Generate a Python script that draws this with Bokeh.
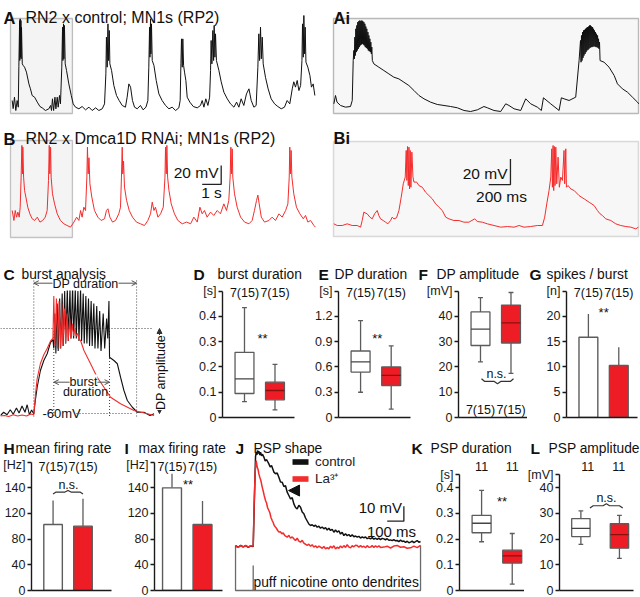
import math
from bokeh.plotting import figure
from bokeh.models import (Range1d, Label, FixedTicker, BoxAnnotation, Arrow, OpenHead,
                          NormalHead, Legend, LegendItem, LinearAxis)
from bokeh.layouts import row, column
from bokeh.embed import file_html
from bokeh.resources import INLINE

S = 1.0
FONT = "Liberation Sans"
RED = "#ee1d25"
TRED = "#f42c2c"
GREY = "#5c5c5c"

# ---------------------------------------------------------------- data
# A: RN2 x control, MN1s (RP2)  (time s, membrane potential mV)
a_trace = [
    (0.00, -49.5), (0.05, -58.0), (0.12, -46.0), (0.19, -60.0), (0.26, -49.5), (0.32, -56.5),
    (0.35, -14.0), (0.39, 34.7), (0.40, -7.4), (0.42, 36.5), (0.44, -3.9), (0.46, 34.7), (0.47, -5.6), (0.49, 27.7), (0.53, -10.9),
    (0.58, -12.6), (0.65, -14.4), (0.75, -19.6), (0.88, -32.0), (0.96, -37.2), (1.05, -44.2), (1.18, -46.0), (1.32, -51.2),
    (1.46, -55.8), (1.58, -57.2), (1.75, -60.0), (1.93, -58.2), (2.02, -54.7),
    (2.07, -60.0), (2.12, -47.7), (2.18, -60.0), (2.25, -46.0), (2.30, -58.2), (2.37, -46.0), (2.42, -56.5), (2.49, -44.2), (2.54, -53.0),
    (2.61, -14.4), (2.65, 27.7), (2.67, -7.4), (2.70, 31.2), (2.72, -5.6), (2.75, 29.5), (2.79, -10.9),
    (2.86, -17.9), (2.98, -32.0), (3.11, -44.2), (3.21, -53.0), (3.33, -56.5), (3.51, -58.2), (3.68, -55.8), (3.86, -59.3),
    (4.04, -56.5), (4.21, -60.0), (4.39, -57.2), (4.56, -60.0), (4.74, -58.2), (4.86, -53.0),
    (4.93, -21.4), (4.96, 17.2), (5.00, -14.4), (5.04, 31.2), (5.07, -7.4), (5.11, 24.2), (5.14, -10.9),
    (5.23, -17.9), (5.35, -33.7), (5.49, -44.2), (5.63, -49.5), (5.79, -54.7), (5.96, -56.5), (6.05, -46.0), (6.14, -32.0),
    (6.23, -35.4), (6.33, -49.5), (6.44, -56.5), (6.58, -58.2), (6.75, -54.7), (6.89, -59.3), (7.04, -56.5), (7.14, -49.5),
    (7.19, -14.4), (7.23, 27.7), (7.25, -3.9), (7.28, 36.5), (7.30, -0.4), (7.33, 31.2), (7.37, -7.4),
    (7.46, -12.6), (7.58, -28.4), (7.72, -42.5), (7.89, -49.5), (8.07, -54.7), (8.25, -58.2), (8.42, -56.5), (8.60, -60.0),
    (8.77, -57.2), (8.84, -49.5),
    (8.88, -10.9), (8.91, 15.4), (8.95, -14.4), (8.98, 15.4), (9.02, -12.6), (9.07, -19.6), (9.14, -28.4), (9.21, -46.0),
    (9.35, -51.2), (9.53, -55.8), (9.74, -57.2), (9.91, -54.7), (10.00, -49.5), (10.09, -56.5), (10.19, -47.7), (10.30, -54.7), (10.39, -46.0),
    (10.44, -17.9), (10.47, 13.7), (10.51, -10.9), (10.56, 24.2), (10.60, -7.4), (10.63, 29.5), (10.67, -3.9), (10.70, 20.7), (10.75, -7.4),
    (10.88, -17.9), (11.00, -29.8), (11.14, -40.7), (11.32, -47.7), (11.49, -53.0), (11.67, -56.5), (11.81, -51.2), (11.93, -56.5),
    (12.05, -47.7), (12.19, -54.7), (12.33, -42.5), (12.46, -37.2), (12.58, -49.5), (12.72, -56.5), (12.84, -54.7),
    (12.93, -14.4), (12.98, 20.7), (13.02, -7.4), (13.07, 27.7), (13.11, -5.6), (13.16, 17.2), (13.21, -10.9),
    (13.33, -25.0), (13.47, -37.2), (13.63, -47.7), (13.81, -53.0), (13.98, -55.8), (14.16, -58.2), (14.33, -56.5), (14.47, -49.5),
    (14.61, -53.0), (14.74, -37.2), (14.82, -29.8), (14.91, -35.4), (15.00, -28.4), (15.09, -39.0), (15.18, -33.7),
    (15.25, -7.4), (15.28, 31.2), (15.32, -3.9), (15.35, 40.0), (15.39, -0.4), (15.42, 27.7), (15.46, -9.1),
    (15.56, -14.4), (15.67, -23.2), (15.75, -35.4), (15.84, -32.0), (15.93, -44.2),
]
# B: RN2 x Dmca1D RNAi, MN1s (RP2)  (time s, mV)
b_trace = [
    (0.00, -46.0), (0.09, -56.5), (0.16, -46.0), (0.23, -53.0), (0.30, -47.7), (0.37, -53.0), (0.42, -42.5),
    (0.47, -10.9), (0.51, 22.5), (0.54, -7.4), (0.56, 20.7), (0.60, -10.9), (0.65, -24.9), (0.72, -31.9), (0.82, -42.5),
    (0.93, -49.5), (1.05, -54.7), (1.18, -56.5), (1.32, -53.0), (1.46, -58.2), (1.60, -56.5), (1.74, -53.0), (1.84, -46.0),
    (1.91, -14.4), (1.95, 22.5), (1.98, -7.4), (2.02, 20.7), (2.05, -10.9), (2.12, -28.4), (2.23, -39.0), (2.37, -49.5),
    (2.54, -56.5), (2.72, -60.0), (2.89, -61.8), (3.07, -63.5), (3.25, -58.2), (3.39, -53.0), (3.51, -56.5), (3.60, -46.0),
    (3.68, -53.0), (3.77, -42.5), (3.86, -46.0),
    (3.93, -10.9), (3.96, 20.7), (4.00, -7.4), (4.04, 9.5), (4.09, -17.9), (4.19, -31.9), (4.33, -46.0), (4.51, -53.0),
    (4.68, -56.5), (4.86, -54.7), (4.96, -46.0), (5.04, -44.2), (5.14, -53.0), (5.28, -58.2), (5.44, -56.5), (5.61, -49.5), (5.70, -42.5),
    (5.75, -10.9), (5.79, 20.7), (5.82, -7.4), (5.86, 6.0), (5.91, -21.4), (6.02, -35.4), (6.16, -46.0), (6.33, -53.0),
    (6.54, -58.2), (6.75, -60.0), (6.96, -61.8), (7.14, -56.5), (7.28, -49.5), (7.37, -37.2), (7.46, -46.0), (7.54, -42.5),
    (7.67, -53.0), (7.81, -49.5), (7.95, -42.5),
    (8.04, -10.9), (8.07, 20.7), (8.11, -7.4), (8.14, 22.5), (8.18, -10.9), (8.25, -24.9), (8.37, -39.0), (8.54, -49.5),
    (8.72, -56.5), (8.95, -60.0), (9.18, -58.2), (9.39, -60.0), (9.56, -53.0), (9.74, -58.2), (9.88, -42.5), (10.00, -49.5),
    (10.12, -46.0), (10.26, -53.0), (10.44, -47.7), (10.61, -51.2), (10.79, -46.0), (10.96, -49.5), (11.14, -39.0), (11.28, -46.0), (11.40, -35.4),
    (11.47, -10.9), (11.51, 20.7), (11.54, -7.4), (11.58, 18.9), (11.61, -10.9), (11.70, -28.4), (11.84, -42.5), (12.02, -53.0),
    (12.23, -58.2), (12.46, -60.0), (12.63, -56.5), (12.75, -46.0), (12.86, -35.4), (12.93, -29.8), (13.00, -39.0), (13.11, -53.0),
    (13.28, -58.2), (13.51, -56.5), (13.68, -53.0), (13.86, -56.5), (14.04, -49.5), (14.21, -53.0), (14.39, -46.0), (14.51, -39.0),
    (14.58, -10.9), (14.61, 20.7), (14.65, -7.4), (14.68, 17.2), (14.72, -10.9), (14.82, -28.4), (14.96, -42.5), (15.14, -49.5),
    (15.32, -54.7), (15.44, -51.2), (15.56, -58.2), (15.70, -56.5), (15.88, -61.8), (15.96, -63.5),
]
zoom_window_s = (-0.09, 3.17)          # part of A/B shown enlarged in Ai/Bi

# Ai / Bi: enlarged view (time ms, mV)
ai_trace = [
    (31, -54.0), (46, -47.5), (60, -52.7), (92, -55.3), (138, -56.6), (184, -56.1), (200, -51.4), (209, -20.2),
    (215, -12.3), (219, -18.9), (224, -1.9), (228, -16.3), (233, 4.6), (238, -13.6), (242, 7.2), (247, -12.3), (251, 9.8),
    (256, -11.0), (261, 10.6), (265, -9.7), (270, 11.1), (274, -8.4), (279, 10.6), (284, -7.7), (288, 11.1), (293, -7.1),
    (297, 10.6), (302, -7.7), (307, 9.8), (311, -8.4), (316, 8.5), (320, -9.7), (325, 6.4), (330, -10.3), (334, 4.6),
    (339, -11.0), (344, 2.0), (348, -12.3), (353, -0.6), (357, -12.9), (362, -3.2), (367, -13.6), (371, -5.8), (376, -15.0),
    (380, -9.7), (385, -20.2),
    (399, -22.8), (445, -25.4), (491, -28.0), (537, -30.6), (583, -33.2), (629, -34.5), (675, -37.1), (721, -39.7),
    (768, -43.6), (814, -47.5), (860, -50.1), (921, -52.7), (982, -54.5), (1044, -55.3), (1105, -56.1), (1167, -57.1),
    (1228, -59.2), (1289, -60.0), (1351, -58.7), (1412, -56.1), (1443, -57.1), (1504, -59.2), (1566, -60.0), (1612, -54.0),
    (1642, -55.3), (1689, -57.9), (1750, -59.2), (1796, -50.1), (1842, -54.0), (1903, -56.6), (1940, -59.2), (1959, -49.3),
    (2026, -54.0), (2103, -59.2), (2124, -49.3), (2149, -50.1), (2195, -51.4), (2256, -48.8), (2287, -20.2),
    (2300, -4.5), (2305, -21.5), (2309, -0.6), (2314, -20.2), (2319, 2.0), (2323, -18.1), (2328, 3.3), (2332, -16.3),
    (2337, 3.8), (2342, -15.0), (2346, 4.6), (2351, -13.6), (2355, 5.4), (2360, -12.3), (2365, 5.9), (2369, -11.8),
    (2374, 6.4), (2378, -11.0), (2383, 7.2), (2388, -10.3), (2392, 7.2), (2397, -9.7), (2401, 6.4), (2406, -9.7),
    (2411, 5.9), (2415, -9.2), (2420, 4.6), (2424, -9.2), (2429, 3.3), (2434, -9.2), (2438, 2.0), (2443, -9.7),
    (2447, 0.7), (2452, -9.7), (2457, -0.6), (2461, -10.3), (2466, -3.2), (2470, -11.0), (2475, -5.8), (2480, -20.2),
    (2517, -21.5), (2563, -25.4), (2610, -31.9), (2640, -38.4), (2686, -42.3), (2732, -44.9), (2778, -48.8),
    (2824, -52.7), (2836, -54.0),
]
bi_trace = [
    (3, -58.7), (34, -60.0), (80, -60.0), (126, -58.7), (172, -60.0), (218, -60.0), (249, -61.3), (264, -56.1), (279, -49.6),
    (310, -50.9), (335, -53.5), (356, -54.8), (378, -50.9), (402, -48.3), (417, -52.2), (433, -54.8), (457, -56.1),
    (479, -57.4), (500, -58.7), (525, -56.1), (540, -53.5), (556, -54.8), (580, -54.0), (602, -48.3), (623, -37.9),
    (642, -27.4), (660, -22.2),
    (669, -1.4), (675, -24.8), (681, 1.7), (688, -28.8), (694, 1.2), (700, -31.4), (706, -1.4), (712, -30.1), (721, -2.7), (731, -22.2),
    (740, -26.1), (765, -26.1), (786, -28.8), (817, -30.1), (847, -34.0), (878, -36.6), (909, -39.2), (940, -43.1),
    (970, -45.7), (1001, -48.3), (1032, -53.5), (1062, -54.8), (1108, -56.1), (1154, -56.1), (1200, -57.4), (1246, -57.4),
    (1299, -54.8), (1323, -56.9), (1369, -57.4), (1415, -58.7), (1477, -60.0), (1538, -61.3), (1600, -60.8), (1661, -61.3),
    (1707, -60.0), (1753, -61.3), (1814, -60.8), (1876, -60.0), (1922, -60.0), (1943, -53.5), (1962, -43.1), (1983, -32.7), (1999, -22.2),
    (2008, -0.1), (2014, -30.1), (2020, 2.5), (2026, -32.7), (2032, 1.7), (2038, -28.8), (2045, 1.2), (2054, -27.4),
    (2066, -6.6), (2078, -30.1), (2091, -22.2), (2106, -24.8), (2121, -1.4), (2127, -27.4), (2137, -0.1), (2143, -30.1),
    (2158, -28.8), (2183, -31.4), (2214, -32.7), (2259, -36.6), (2306, -39.2), (2352, -41.8), (2398, -44.4), (2428, -48.3),
    (2453, -50.9), (2474, -52.2), (2505, -54.8), (2551, -56.1), (2597, -58.7), (2643, -60.0), (2689, -60.8), (2735, -61.3),
    (2781, -62.6), (2805, -61.3),
]

# C: burst analysis (time ms, mV)
c_control = [
    (-227, -60.8), (-205, -59.5), (-182, -60.5), (-160, -58.5), (-140, -60.3), (-118, -57.8), (-100, -59.8), (-80, -57.0),
    (-60, -59.5), (-45, -56.5), (-30, -60.5), (-15, -58.6), (0, -60.2), (10, -55.0), (23, -49.5), (45, -42.8), (68, -38.8),
    (91, -36.1), (114, -31.5), (130, -30.5),
    (136, -34), (143, -20), (150, -36), (159, -16), (166, -35), (176, -14), (183, -34), (193, -12), (200, -33), (210, -11),
    (217, -32), (228, -10), (235, -31), (246, -10), (253, -30), (264, -9), (271, -30), (282, -10), (289, -30), (300, -11),
    (307, -31), (318, -10), (325, -31), (336, -12), (343, -32), (354, -13), (361, -32), (372, -14), (379, -33), (390, -15),
    (397, -33), (408, -16), (416, -34), (428, -17), (436, -34), (448, -19), (457, -35), (472, -20), (482, -34), (495, -22),
    (503, -30), (511, -15), (515, -37.5),
    (545, -38.8), (568, -40.1), (590, -45.5), (613, -50.8), (636, -54.8), (670, -57.5), (704, -59.5), (749, -59.5),
    (790, -60.8), (818, -60.1),
]
c_la = [
    (-227, -61.0), (-200, -60.8), (-170, -61.2), (-140, -60.5), (-110, -61.0), (-80, -60.6), (-50, -61.0), (-20, -60.2),
    (0, -60.5), (12, -52.0), (23, -46.0), (45, -40.0), (68, -36.5), (91, -34.0), (114, -31.0), (130, -30.0),
    (136, -13), (144, -33), (154, -14), (162, -34), (172, -15), (180, -34), (190, -16), (198, -33), (208, -18), (216, -32),
    (226, -20), (234, -31), (244, -22), (252, -30), (262, -24), (270, -29), (280, -26), (288, -29), (298, -28), (306, -30),
    (318, -30.8), (341, -34.8), (386, -40.1), (431, -45.5), (477, -49.5), (522, -53.5), (590, -56.1), (681, -58.8),
    (772, -60.1), (818, -60.8),
]
c_dp_start, c_dp_end = 0, 699          # ms
c_burst_start, c_burst_end = 136, 515  # ms
c_dp_top, c_rest = -26.0, -60.0        # mV

# J: PSP shape (time ms after puff, mV above baseline)
j_control = [
    (-106, 0.5), (-90, -0.5), (-75, 0.8), (-60, -0.3), (-45, 0.6), (-30, -0.5), (-15, 0.4), (0, 0.0), (8, 35.0), (14, 60.0),
    (18, 63.0), (22, 61.0), (26, 64.0), (30, 62.0), (34, 63.5), (40, 61.0), (44, 62.9), (50, 60.5), (56, 61.5), (64, 59.6),
    (72, 57.0), (80, 58.0), (94, 55.1), (102, 53.0), (110, 54.0), (124, 49.6), (134, 48.5), (144, 49.0), (154, 46.2),
    (164, 43.0), (174, 42.9), (184, 40.0), (194, 40.5), (204, 36.2), (214, 34.0), (224, 31.8), (234, 32.5), (244, 28.4),
    (254, 26.0), (264, 25.1), (274, 27.5), (284, 26.2), (294, 23.0), (304, 21.8), (314, 19.0), (324, 17.0), (334, 15.0),
    (344, 14.0), (354, 14.5), (364, 13.5), (374, 14.2), (384, 12.9), (394, 13.5), (404, 12.2), (414, 13.0), (424, 11.8),
    (434, 12.6), (444, 11.0), (454, 12.2), (464, 10.7), (474, 11.5), (484, 9.5), (494, 11.0), (504, 9.6), (514, 10.5),
    (524, 8.3), (534, 9.5), (544, 7.3), (554, 8.5), (564, 7.2), (574, 8.0), (584, 6.7), (594, 7.8), (604, 6.5), (614, 7.0),
    (624, 6.2), (634, 6.8), (644, 5.6), (654, 6.4), (664, 5.8), (674, 6.3), (684, 5.2), (694, 5.8), (704, 5.1), (714, 5.9),
    (724, 4.9), (734, 5.5), (744, 4.7), (754, 5.6), (764, 4.6), (774, 5.4), (784, 5.1), (794, 4.5), (804, 5.2), (814, 4.2),
    (824, 4.4), (834, 3.9), (844, 4.6), (854, 3.8), (864, 4.0), (874, 3.3), (884, 4.2), (894, 3.4), (904, 3.6), (914, 2.8),
    (924, 3.5), (934, 2.5), (944, 2.9), (954, 3.6), (964, 2.6), (974, 3.2), (984, 4.0), (994, 2.8), (1004, 3.3),
]
j_la = [
    (-106, 0.3), (-90, -0.6), (-75, 0.6), (-60, -0.4), (-45, 0.7), (-30, -0.4), (-15, 0.5), (0, 0.3), (6, 30.0), (12, 50.0),
    (18, 57.3), (24, 53.0), (30, 51.0), (34, 48.4), (40, 46.0), (46, 44.0), (54, 39.6), (60, 37.0), (66, 34.0), (74, 30.7),
    (80, 29.0), (86, 26.0), (94, 24.0), (100, 22.5), (106, 19.5), (114, 17.3), (120, 16.0), (126, 14.0), (134, 12.9),
    (140, 12.0), (148, 10.5), (156, 9.6), (164, 9.8), (172, 8.5), (180, 9.0), (190, 7.2), (204, 6.2), (214, 7.5), (224, 5.5),
    (234, 6.4), (244, 5.1), (254, 4.0), (264, 5.5), (274, 3.6), (284, 2.9), (294, 4.1), (304, 2.2), (314, 1.5), (324, 0.7),
    (334, 1.6), (344, 0.2), (354, 1.2), (364, -0.4), (374, 0.5), (384, -0.8), (394, 0.3), (404, -0.4), (414, -1.2),
    (424, 0.0), (434, -1.6), (444, -0.8), (454, -1.5), (464, 0.2), (474, -1.0), (484, 0.5), (494, -1.6), (504, -0.5),
    (514, -1.2), (524, 0.3), (534, -0.9), (544, 0.6), (554, -0.6), (564, 1.2), (574, -0.3), (584, -0.9), (594, 0.5),
    (604, -0.2), (614, 0.8), (624, 0.7), (634, -0.5), (644, 0.7), (654, -0.4), (664, 0.2), (674, -0.8), (684, 0.6),
    (694, -0.5), (704, -0.4), (714, 0.6), (724, -0.7), (734, 0.5), (744, -0.5), (754, 0.4), (764, -0.6), (784, -0.4),
    (804, 0.2), (824, -1.0), (844, 0.3), (864, 0.7), (884, -0.5), (904, -0.2), (924, -1.2), (944, -0.9), (964, 0.3),
    (984, -0.8), (1004, 0.7),
]
j_puff_t = 0
j_arrow_tip = (212, 37.3)

# statistics: [control, Dmca1D RNAi / La3+]
n_burst = ["7(15)", "7(15)"]
n_psp = ["11", "11"]
d_stats = dict(lo=[0.063, 0.03], q1=[0.095, 0.07], med=[0.153, 0.107], q3=[0.258, 0.14], hi=[0.435, 0.21])
e_stats = dict(lo=[0.30, 0.10], q1=[0.54, 0.38], med=[0.66, 0.50], q3=[0.79, 0.60], hi=[1.15, 0.85])
f_stats = dict(lo=[22.0, 17.5], q1=[28.5, 29.5], med=[35.0, 37.5], q3=[41.8, 44.5], hi=[47.5, 49.5])
k_stats = dict(lo=[0.19, 0.025], q1=[0.225, 0.107], med=[0.262, 0.135], q3=[0.293, 0.157], hi=[0.39, 0.222])
l_stats = dict(lo=[18.0, 12.5], q1=[21.0, 16.5], med=[24.2, 21.8], q3=[28.0, 26.0], hi=[31.0, 29.3])
g_mean, g_sd = [15.9, 10.3], [4.6, 3.6]
h_mean, h_sd = [102.9, 100.3], [37.4, 42.6]
i_mean, i_sd = [160.0, 102.9], [21.9, 36.4]

d_ticks, d_labels = [0, 0.1, 0.2, 0.3, 0.4, 0.5], ["0", "0.1", "0.2", "0.3", "0.4", "[s]"]
e_ticks, e_labels = [0, 0.3, 0.6, 0.9, 1.2, 1.5], ["0", "0.3", "0.6", "0.9", "1.2", "[s]"]
f_ticks, f_labels = [0, 10, 20, 30, 40, 50], ["0", "10", "20", "30", "40", "[mV]"]
g_ticks, g_labels = [0, 5, 10, 15, 20, 25], ["0", "5", "10", "15", "20", "[n]"]
hz_ticks, hz_labels = [0, 40, 80, 120, 160, 200], ["0", "40", "80", "120", "140", "[Hz]"]
k_ticks, k_labels = [0, 0.1, 0.2, 0.3, 0.4, 0.45], ["0", "0.1", "0.2", "0.3", "0.4", "[s]"]
l_ticks, l_labels = [0, 10, 20, 30, 40, 45], ["0", "10", "20", "30", "40", "[mV]"]
pos2 = [1, 2]
pos_l = [1, 2.3]


# ---------------------------------------------------------------- helpers
def px(v):
    return int(round(v * S))


def fs(v):
    return f"{v * S:.1f}px"


def cols(tr):
    return [t for t, _ in tr], [v for _, v in tr]


class Panel:
    def __init__(self, x0, x1, y0, y1, frame, xmap, ymap):
        fl, fr, ft, fb = frame
        self.xmap, self.ymap = xmap, ymap
        p = figure(width=px(x1) - px(x0), height=px(y1) - px(y0), title=None,
                   output_backend="svg", toolbar_location=None,
                   x_range=Range1d(xmap(fl), xmap(fr)), y_range=Range1d(ymap(fb), ymap(ft)),
                   x_axis_type=None, y_axis_type=None,
                   min_border_left=px(fl) - px(x0), min_border_right=px(x1) - px(fr),
                   min_border_top=px(ft) - px(y0), min_border_bottom=px(y1) - px(fb))
        p.outline_line_color = None
        p.background_fill_color = "white"
        p.border_fill_color = "white"
        self.p = p

    def text(self, x, y, s, size, bold=False, align="left", baseline="alphabetic",
             color="#111111", angle=0.0, bg=None):
        self.p.add_layout(Label(x=x, y=y, text=s, text_font=FONT, text_font_size=fs(size),
                                text_font_style="bold" if bold else "normal",
                                text_align=align, text_baseline=baseline, text_color=color,
                                angle=angle, background_fill_color=bg))

    def rtext(self, rx, ry, s, size, **kw):
        self.text(self.xmap(rx), self.ymap(ry), s, size, **kw)


def header(x0, x1, y0, y1):
    return Panel(x0, x1, y0, y1, (x0, x1, y0, y1), lambda r: r, lambda r: -r)


def stat_panel(x0, x1, y0, y1, axis_x, zero_y, ppu, ticks, labels, axis_end, xstart=0.279):
    def xmap(r):
        return xstart + (r - axis_x) / 30.5

    def ymap(r):
        return (zero_y - r) / ppu

    pan = Panel(x0, x1, y0, y1, (axis_x, x1, y0, zero_y), xmap, ymap)
    ya = LinearAxis(ticker=FixedTicker(ticks=ticks),
                    major_label_overrides=dict(zip(ticks, labels)),
                    bounds=(ticks[0], ticks[-1]))
    xa = LinearAxis(ticker=FixedTicker(ticks=[]), bounds=(xstart, xmap(axis_end)))
    for ax in (ya, xa):
        ax.axis_line_color = "#1a1a1a"
        ax.axis_line_width = 1.4
        ax.major_tick_line_color = "#1a1a1a"
        ax.major_tick_line_width = 1.4
        ax.major_tick_in = 0
        ax.major_tick_out = 4
        ax.minor_tick_line_color = None
        ax.major_label_text_font = FONT
        ax.major_label_text_font_size = fs(12.5)
        ax.major_label_text_color = "#1a1a1a"
        ax.major_label_standoff = 2
    xa.major_tick_out = 0
    xa.major_label_standoff = 0
    pan.p.add_layout(ya, "left")
    pan.p.add_layout(xa, "below")
    return pan


def boxes(pan, pos, st, w=0.62, cap=0.16):
    p = pan.p
    lefts = [x - w / 2 for x in pos]
    rights = [x + w / 2 for x in pos]
    p.segment(pos, st["q3"], pos, st["hi"], line_color=GREY, line_width=1.3)
    p.segment(pos, st["q1"], pos, st["lo"], line_color=GREY, line_width=1.3)
    p.segment([x - cap / 2 for x in pos], st["hi"], [x + cap / 2 for x in pos], st["hi"], line_color=GREY, line_width=1.3)
    p.segment([x - cap / 2 for x in pos], st["lo"], [x + cap / 2 for x in pos], st["lo"], line_color=GREY, line_width=1.3)
    p.quad(left=lefts, right=rights, bottom=st["q1"], top=st["q3"], fill_color=["white", RED],
           line_color=GREY, line_width=1.3)
    p.segment(lefts, st["med"], rights, st["med"], line_color=["#444444", "#8a1010"], line_width=1.3)


def bars(pan, pos, mean, sd, w=0.62):
    p = pan.p
    tops = [m + s for m, s in zip(mean, sd)]
    p.segment(pos, mean, pos, tops, line_color=GREY, line_width=1.3)
    p.vbar(x=pos, top=mean, bottom=0, width=w, fill_color=["white", RED], line_color=GREY, line_width=1.4)


def brace(pan, x1, x2, y, h):
    xm = (x1 + x2) / 2
    d = (x2 - x1) * 0.1
    pan.p.line([x1, x1 + d, xm - d, xm, xm + d, x2 - d, x2],
               [y, y + 0.55 * h, y + 0.55 * h, y + h, y + 0.55 * h, y + 0.55 * h, y],
               line_color="#333333", line_width=1.2)


def scalebar(pan, t, v, dt, dv, color="#222222"):
    pan.p.line([t - dt, t, t], [v, v, v + dv], line_color=color, line_width=1.3)


# ---------------------------------------------------------------- row 1 / 2
A = Panel(0, 325, 0, 118, (0, 325, 0, 118), lambda r: (r - 11.7) / 19.0, lambda r: -60 + (110 - r) / 0.95)
A.p.add_layout(BoxAnnotation(left=zoom_window_s[0], right=zoom_window_s[1], bottom=A.ymap(113), top=A.ymap(18),
                             fill_color="#f4f4f4", fill_alpha=1, line_color="#333333", line_width=1.3, level="underlay"))
A.p.line(*cols(a_trace), line_color="#111111", line_width=1)
A.rtext(3, 17, "A", 16.5, bold=True)
A.rtext(25, 17, "RN2 x control; MN1s (RP2)", 16)

B = Panel(0, 325, 118, 243, (0, 325, 118, 243), lambda r: (r - 11.7) / 19.0, lambda r: -60 + (223.3 - r) / 0.95)
B.p.add_layout(BoxAnnotation(left=zoom_window_s[0], right=zoom_window_s[1], bottom=B.ymap(237), top=B.ymap(140),
                             fill_color="#f4f4f4", fill_alpha=1, line_color="#444444", line_width=1.3, level="underlay"))
B.p.line(*cols(b_trace), line_color=TRED, line_width=1)
B.rtext(3, 138, "B", 16.5, bold=True)
B.rtext(25, 138, "RN2 x Dmca1D RNAi; MN1s (RP2)", 16)
scalebar(B, 11.0, -18.6, 1.0, 20.0)
B.rtext(218, 172, "20 mV", 15.5, align="right", baseline="middle")
B.rtext(211, 192, "1 s", 15.5, align="center", baseline="middle")

Ai = Panel(325, 640, 0, 118, (325, 640, 0, 118), lambda r: (r - 330) * 9.2, lambda r: -60 + (111 - r) / 1.28)
Ai.p.add_layout(BoxAnnotation(left=Ai.xmap(333), right=Ai.xmap(638), bottom=Ai.ymap(113), top=Ai.ymap(18),
                              fill_color="#f7f7f7", fill_alpha=1, line_color="#222222", line_width=1.4, level="underlay"))
Ai.p.line(*cols(ai_trace), line_color="#111111", line_width=1)
Ai.rtext(333, 17, "Ai", 16.5, bold=True)

Bi = Panel(325, 640, 118, 243, (325, 640, 118, 243), lambda r: (r - 333) * 9.2, lambda r: -60 + (225 - r) / 1.28)
Bi.p.add_layout(BoxAnnotation(left=Bi.xmap(333), right=Bi.xmap(638), bottom=Bi.ymap(236), top=Bi.ymap(141),
                              fill_color="#f7f7f7", fill_alpha=1, line_color="#8a8a8a", line_width=1.5, level="underlay"))
Bi.p.line(*cols(bi_trace), line_color=TRED, line_width=1)
Bi.rtext(333, 137, "Bi", 16.5, bold=True)
scalebar(Bi, 1628, -28.0, 200, 20.0)
Bi.rtext(507, 172.5, "20 mV", 15.5, align="right", baseline="middle")
Bi.rtext(501, 196, "200 ms", 15.5, align="center", baseline="middle")

# ---------------------------------------------------------------- row 3
C = Panel(0, 190, 243, 427, (0, 190, 243, 427), lambda r: (r - 33.3) * 6.8, lambda r: -60 + (413 - r) / 2.5)
cp = C.p
dot = dict(line_color="#444444", line_width=1, line_dash="1 2")
cp.segment([c_dp_start, c_dp_end], [C.ymap(280)] * 2, [c_dp_start, c_dp_end], [C.ymap(417)] * 2, **dot)
cp.segment([c_burst_start, c_burst_end], [-27.0] * 2, [c_burst_start, c_burst_end], [C.ymap(417)] * 2, **dot)
cp.segment([C.xmap(0)], [c_dp_top], [C.xmap(153)], [c_dp_top], **dot)
cp.segment([C.xmap(76)], [c_rest], [C.xmap(133)], [c_rest], **dot)
cp.line(*cols(c_control), line_color="#111111", line_width=1.1)
cp.line(*cols(c_la), line_color=TRED, line_width=1.1)
ah = dict(size=5, line_color="#555555", line_width=1)
cp.add_layout(Arrow(start=OpenHead(**ah), end=OpenHead(**ah), x_start=c_dp_start, x_end=c_dp_end,
                    y_start=C.ymap(282.7), y_end=C.ymap(282.7), line_color="#555555", line_width=1))
C.rtext(85, 283, "DP duration", 12.5, align="center", baseline="middle", bg="white")
cp.add_layout(Arrow(start=OpenHead(**ah), end=OpenHead(**ah), x_start=c_burst_start, x_end=c_burst_end,
                    y_start=C.ymap(381.7), y_end=C.ymap(381.7), line_color="#555555", line_width=1))
C.rtext(83, 381, "burst", 12.5, align="center", bg="white")
C.rtext(85, 384, "duration", 12.5, align="center", baseline="top")
nh = dict(size=5, fill_color="#333333", line_color="#333333")
cp.add_layout(Arrow(start=NormalHead(**nh), end=NormalHead(**nh), x_start=C.xmap(159), x_end=C.xmap(159),
                    y_start=c_rest, y_end=c_dp_top, line_color="#333333", line_width=1))
C.rtext(160, 372, "DP amplitude", 12.5, align="center", baseline="middle", angle=math.pi / 2, bg="white")
C.rtext(42, 413, "-60mV", 13, baseline="middle")
C.rtext(3, 274, "C", 15.5, bold=True)
C.rtext(21, 274, "burst analysis", 13.8)

H3 = header(190, 640, 243, 283)
H3.rtext(193, 274, "D", 15.5, bold=True)
H3.rtext(217, 274, "burst duration", 13.8)
H3.rtext(318, 274, "E", 15.5, bold=True)
H3.rtext(334, 274, "DP duration", 13.8)
H3.rtext(418, 274, "F", 15.5, bold=True)
H3.rtext(436, 274, "DP amplitude", 13.8)
H3.rtext(529, 274, "G", 15.5, bold=True)
H3.rtext(546, 274, "spikes / burst", 13.8)

D = stat_panel(190, 310, 283, 427, 222, 416.7, 252.0, d_ticks, d_labels, 294.3)
boxes(D, pos2, d_stats)
for x, c in zip(pos2, n_burst):
    D.text(x, D.ymap(292), c, 12.5, align="center", baseline="middle")
D.rtext(262, 337.5, "**", 13, align="center", baseline="middle")

E = stat_panel(310, 414, 283, 427, 338.3, 416.7, 84.0, e_ticks, e_labels, 410)
boxes(E, pos2, e_stats)
for x, c in zip(pos2, n_burst):
    E.text(x, E.ymap(292), c, 12.5, align="center", baseline="middle")
E.rtext(377, 338, "**", 13, align="center", baseline="middle")

F = stat_panel(414, 527, 283, 427, 458, 416.7, 2.52, f_ticks, f_labels, 530.7)
boxes(F, pos2, f_stats)
for x, c in zip(pos2, n_burst):
    F.text(x, F.ymap(409), c, 12.5, align="center", baseline="middle")
brace(F, F.xmap(481), F.xmap(513), F.ymap(378), F.ymap(383) - F.ymap(378))
F.rtext(496, 373, "n.s.", 12.5, align="center", baseline="middle")

G = stat_panel(527, 640, 283, 427, 565.7, 416.7, 5.04, g_ticks, g_labels, 636.7)
bars(G, pos2, g_mean, g_sd)
for x, c in zip(pos2, n_burst):
    G.text(x, G.ymap(292), c, 12.5, align="center", baseline="middle")
G.rtext(603, 311.5, "**", 13, align="center", baseline="middle")

# ---------------------------------------------------------------- row 4
Z4 = 590.0  # zero line of the row-4 bar / box charts
H4a = header(0, 233, 427, 457)
H4a.rtext(3, 448, "H", 15.5, bold=True)
H4a.rtext(15, 448, "mean firing rate", 13.8)
H4a.rtext(124, 448, "I", 15.5, bold=True)
H4a.rtext(138, 448, "max firing rate", 13.8)

H = stat_panel(0, 118, 457, 597, 29.3, Z4, 0.6417, hz_ticks, hz_labels, 111)
bars(H, pos2, h_mean, h_sd)
for x, c in zip(pos2, n_burst):
    H.text(x, H.ymap(466), c, 12.5, align="center", baseline="middle")
brace(H, 1, 2, H.ymap(493.5), H.ymap(490) - H.ymap(493.5))
H.rtext(67, 484, "n.s.", 12.5, align="center", baseline="middle")

I = stat_panel(118, 233, 457, 597, 154, Z4, 0.6417, hz_ticks, hz_labels, 221.7, xstart=0.426)
bars(I, pos2, i_mean, i_sd)
for x, c in zip(pos2, n_burst):
    I.text(x, I.ymap(466), c, 12.5, align="center", baseline="middle")
I.rtext(187.5, 483.5, "**", 13, align="center", baseline="middle")

J = Panel(233, 424, 427, 597, (233, 424, 427, 597), lambda r: (r - 252.7) * 6.0, lambda r: (546 - r) / 1.5)
jp = J.p
jt0, jt1 = j_control[0][0], j_control[-1][0]
jp.line([jt0, jt0, jt1, jt1], [J.ymap(545), J.ymap(590), J.ymap(590), J.ymap(545)], line_color="#6a6a6a", line_width=1.3)
jp.line([j_puff_t, j_puff_t], [J.ymap(565), J.ymap(590)], line_color="#6a6a6a", line_width=1.3)
jp.line(*cols(j_control), line_color="#111111", line_width=1.5)
jp.line(*cols(j_la), line_color=TRED, line_width=1.5)
jp.add_layout(Arrow(end=NormalHead(size=11, fill_color="#111111", line_color="#111111"),
                    x_start=j_arrow_tip[0] + 70, y_start=j_arrow_tip[1],
                    x_end=j_arrow_tip[0], y_end=j_arrow_tip[1], line_alpha=0))
scalebar(J, 904, J.ymap(520.7), 100, 10)
J.rtext(401.5, 506.5, "10 mV", 15, align="right", baseline="middle")
J.rtext(391, 531, "100 ms", 15, align="center", baseline="middle")
J.rtext(253, 582, "puff nicotine onto dendrites", 13.8, baseline="middle")
J.rtext(235, 448, "J", 15.5, bold=True)
J.rtext(253, 448, "PSP shape", 13.8)
J.rtext(411, 448, "K", 15.5, bold=True)
# legend proxies: zero-area boxes at the puff time, only their colours are used by the legend
r_c = jp.quad(left=[j_puff_t], right=[j_puff_t], top=[0], bottom=[0], fill_color="#111111", line_color=None)
r_l = jp.quad(left=[j_puff_t], right=[j_puff_t], top=[0], bottom=[0], fill_color=TRED, line_color=None)
leg = Legend(items=[LegendItem(label="control", renderers=[r_c]), LegendItem(label="La³⁺", renderers=[r_l])],
             location=(57, 110), glyph_width=20, glyph_height=7, label_standoff=5,
             spacing=0, padding=0, margin=0, label_height=12, border_line_color=None,
             background_fill_alpha=0, label_text_font=FONT, label_text_font_size=fs(13.4),
             label_text_color="#222222")
jp.add_layout(leg)

H4b = header(424, 640, 427, 457)
H4b.rtext(430, 448, "PSP duration", 13.8)
H4b.rtext(530, 448, "L", 15.5, bold=True)
H4b.rtext(548, 448, "PSP amplitude", 13.8)

K = stat_panel(424, 524, 457, 597, 459.3, Z4, 256.7, k_ticks, k_labels, 524)
boxes(K, pos2, k_stats)
for x, c in zip(pos2, n_psp):
    K.text(x, K.ymap(466), c, 12.5, align="center", baseline="middle")
K.rtext(501.7, 500.5, "**", 13, align="center", baseline="middle")

L = stat_panel(524, 640, 457, 597, 556.7, Z4, 2.567, l_ticks, l_labels, 633)
boxes(L, pos_l, l_stats)
for rx, c in zip([585.8, 617.5], n_psp):
    L.rtext(rx, 466, c, 12.5, align="center", baseline="middle")
brace(L, L.xmap(588), L.xmap(621.7), L.ymap(507.6), L.ymap(503.3) - L.ymap(507.6))
L.rtext(605, 497.5, "n.s.", 12.5, align="center", baseline="middle")

layout = column(
    row(A.p, Ai.p),
    row(B.p, Bi.p),
    row(C.p, column(H3.p, row(D.p, E.p, F.p, G.p))),
    row(column(H4a.p, row(H.p, I.p)), J.p, column(H4b.p, row(K.p, L.p))),
)
open("out.html", "w").write(file_html(layout, INLINE))
